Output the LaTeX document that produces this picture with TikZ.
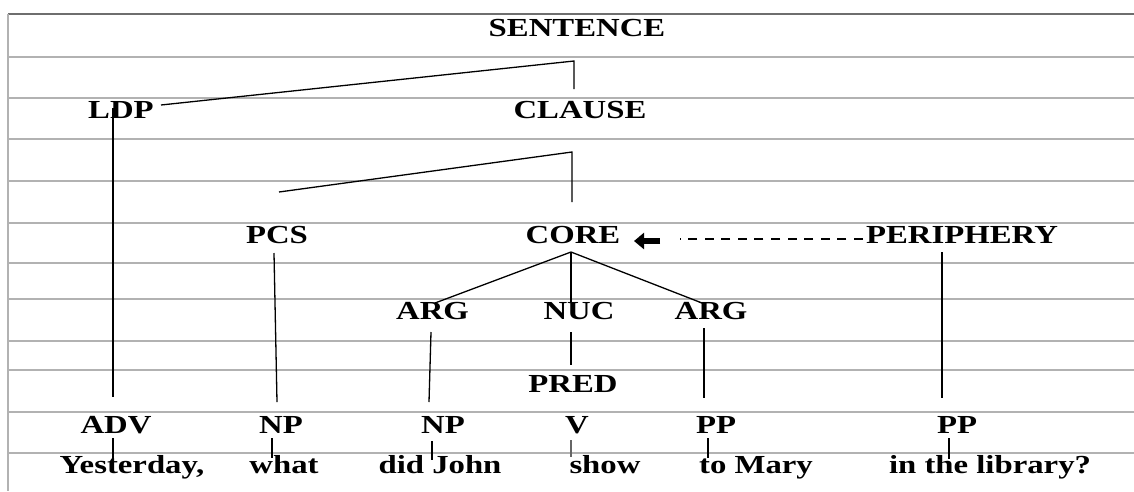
\documentclass[tikz,border=0pt]{standalone}
\usepackage{fontspec}
\usepackage{graphicx}
\setmainfont{Liberation Serif}
\usetikzlibrary{arrows.meta}
\definecolor{gridgray}{RGB}{178,178,178}
\definecolor{topgray}{RGB}{110,110,110}
\newcommand\sx[1]{\scalebox{1.26}[1]{#1}}
\begin{document}
\begin{tikzpicture}[x=1pt,y=-1pt,
  lab/.style={inner sep=0pt, anchor=base, font=\fontsize{26}{30}\selectfont\bfseries},
  rule/.style={draw=gridgray, line width=1.5pt},
  branch/.style={draw=black, line width=1.3pt},
  tick/.style={draw=black, line width=1.3pt}]
\useasboundingbox (0,0) rectangle (1134,491);
% ruled background
\foreach \yy in {57,98,139,181,223,263,299,341,370,412,453}
  \draw[rule] (8,\yy) -- (1134,\yy);
\draw[draw=topgray, line width=1.5pt] (8,14) -- (1134,14);
\draw[rule] (8,14) -- (8,491);
% nodes
\node[lab] (sentence) at (577,36) {\sx{SENTENCE}};
\node[lab] (ldp) at (121,118) {\sx{LDP}};
\node[lab] (clause) at (580,118) {\sx{CLAUSE}};
\node[lab] (pcs) at (277,243) {\sx{PCS}};
\node[lab] (core) at (573,243) {\sx{CORE}};
\node[lab] (periph) at (962,243) {\sx{PERIPHERY}};
\node[lab] (arga) at (432.5,319) {\sx{ARG}};
\node[lab] (nuc) at (579,319) {\sx{NUC}};
\node[lab] (argb) at (711,319) {\sx{ARG}};
\node[lab] (pred) at (573,392) {\sx{PRED}};
\node[lab] (adv) at (116,433) {\sx{ADV}};
\node[lab] (npa) at (281,433) {\sx{NP}};
\node[lab] (npb) at (443,433) {\sx{NP}};
\node[lab] (v) at (577,433) {\sx{V}};
\node[lab] (ppa) at (716,433) {\sx{PP}};
\node[lab] (ppb) at (957,433) {\sx{PP}};
\node[lab] (w1) at (132,473) {\sx{Yesterday,}};
\node[lab] (w2) at (284,473) {\sx{what}};
\node[lab] (w3) at (440,473) {\sx{did John}};
\node[lab] (w4) at (605,473) {\sx{show}};
\node[lab] (w5) at (756,473) {\sx{to Mary}};
\node[lab] (w6) at (990,473) {\sx{in the library?}};
% connector end points
\coordinate (sj) at (574,61);
\coordinate (sd) at (574,89);
\coordinate (sl) at (161,105);
\coordinate (ldpt) at (113,108);
\coordinate (ldpb) at (113,397);
\coordinate (cj) at (572,152);
\coordinate (cd) at (572,202);
\coordinate (cl) at (279,192);
\coordinate (pcst) at (274,253);
\coordinate (pcsb) at (277,402);
\coordinate (corej) at (571,252);
\coordinate (arga-t) at (435,303);
\coordinate (nuc-t) at (571,303);
\coordinate (argb-t) at (702,303);
\coordinate (pert) at (942,252);
\coordinate (perb) at (942,398);
\coordinate (arga-b1) at (431,332);
\coordinate (arga-b2) at (429,402);
\coordinate (nuc-b1) at (571,332);
\coordinate (nuc-b2) at (571,365);
\coordinate (argb-b1) at (704,328);
\coordinate (argb-b2) at (704,398);
\coordinate (dashs) at (863,239);
\coordinate (dashe) at (680,239);
\coordinate (arrs) at (660,241);
\coordinate (arre) at (634,241);
% tree branches
\draw[branch] (sd) -- (sj) -- (sl);
\draw[branch] (ldpt) -- (ldpb);
\draw[branch] (cd) -- (cj) -- (cl);
\draw[branch] (pcst) -- (pcsb);
\draw[branch] (corej) -- (arga-t);
\draw[branch] (corej) -- (nuc-t);
\draw[branch] (corej) -- (argb-t);
\draw[branch] (pert) -- (perb);
\draw[branch] (arga-b1) -- (arga-b2);
\draw[branch] (nuc-b1) -- (nuc-b2);
\draw[branch] (argb-b1) -- (argb-b2);
% ticks between category and word
\draw[tick] (113,438) -- (113,459);
\draw[tick] (272,438) -- (272,458);
\draw[tick] (432,441) -- (432,460);
\draw[tick, draw=black!60] (571,440) -- (571,457);
\draw[tick] (708,438) -- (708,458);
\draw[tick] (949,438) -- (949,459);
% periphery -> core
\draw[draw=black, line width=1.3pt, dash pattern=on 9pt off 7.6pt] (dashs) -- (dashe);
\draw[draw=black, line width=6.5pt, -{Triangle[length=10pt,width=16pt]}] (arrs) -- (arre);
\end{tikzpicture}
\end{document}
